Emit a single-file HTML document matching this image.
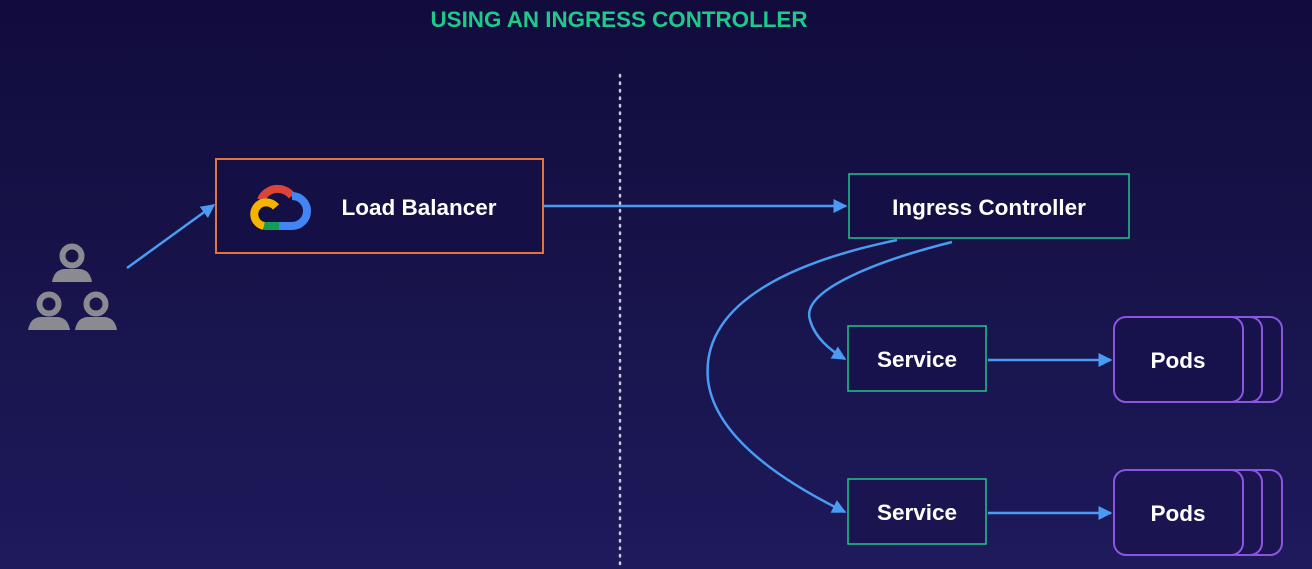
<!DOCTYPE html>
<html><head><meta charset="utf-8"><style>
html,body{margin:0;padding:0;width:1312px;height:569px;overflow:hidden;}
body{background:linear-gradient(180deg,#110c3c 0%,#171349 45%,#1e1a5c 100%);font-family:"Liberation Sans",sans-serif;}
svg{display:block}
</style></head><body>
<svg width="1312" height="569" viewBox="0 0 1312 569" xmlns="http://www.w3.org/2000/svg">
<defs>
<marker id="b" viewBox="0 0 10 10" refX="9" refY="5" markerWidth="14" markerHeight="14" orient="auto" markerUnits="userSpaceOnUse"><path d="M0 0L10 5L0 10z" fill="#4a9cf2"/></marker>
</defs>
<text x="619" y="27" text-anchor="middle" font-family="Liberation Sans" font-weight="bold" font-size="22" fill="#1fc98a" textLength="377" lengthAdjust="spacingAndGlyphs">USING AN INGRESS CONTROLLER</text>
<line x1="620" y1="75" x2="620" y2="569" stroke="#c8c8d8" stroke-width="2.5" stroke-dasharray="1.5 6" stroke-linecap="round"/>
<!-- users -->
<g fill="#8a8a90">
<circle cx="72" cy="256" r="9.5" fill="none" stroke="#8a8a90" stroke-width="6"/>
<path d="M52 282 Q54 270 64 269 L80 269 Q90 270 92 282 z"/>
<circle cx="49" cy="304" r="9.5" fill="none" stroke="#8a8a90" stroke-width="6"/>
<path d="M28 330 Q30 318 40 317 L58 317 Q68 318 70 330 z"/>
<circle cx="96" cy="304" r="9.5" fill="none" stroke="#8a8a90" stroke-width="6"/>
<path d="M75 330 Q77 318 87 317 L105 317 Q115 318 117 330 z"/>
</g>
<g stroke="#4a9cf2" stroke-width="2.5" fill="none">
<line x1="127" y1="268" x2="214" y2="205" marker-end="url(#b)"/>
<line x1="544" y1="206" x2="846" y2="206" marker-end="url(#b)"/>
<path d="M897 240 C800 260 700 300 708 380 C715 440 790 485 845 512" marker-end="url(#b)"/>
<path d="M952 242 C880 260 800 290 810 320 C815 338 830 350 845 359" marker-end="url(#b)"/>
<line x1="988" y1="360" x2="1111" y2="360" marker-end="url(#b)"/>
<line x1="988" y1="513" x2="1111" y2="513" marker-end="url(#b)"/>
</g>
<rect x="216" y="159" width="327" height="94" fill="#140f45" stroke="#e0763a" stroke-width="2"/>
<!-- google cloud -->
<g stroke-width="8" fill="none" stroke-linecap="butt">
<path d="M261 200 A18 18 0 0 1 292 196" stroke="#db4437"/>
<path d="M292 196 A12 12 0 0 1 292 226 L279 226" stroke="#4285f4"/>
<path d="M279 226 L264 226" stroke="#0f9d58"/>
<path d="M264 226 A12 12 0 0 1 262 203 A13 13 0 0 1 276 207" stroke="#f4b400"/>
</g>
<text x="419" y="215" text-anchor="middle" font-weight="bold" font-size="22.5" fill="#fff">Load Balancer</text>
<rect x="849" y="174" width="280" height="64" fill="#140f45" stroke="#22c48a" stroke-width="1.5"/>
<text x="989" y="215" text-anchor="middle" font-weight="bold" font-size="22.5" fill="#fff">Ingress Controller</text>
<rect x="848" y="326" width="138" height="65" fill="#17124b" stroke="#22c48a" stroke-width="1.5"/>
<text x="917" y="367" text-anchor="middle" font-weight="bold" font-size="22.5" fill="#fff">Service</text>
<rect x="848" y="479" width="138" height="65" fill="#1a1550" stroke="#22c48a" stroke-width="1.5"/>
<text x="917" y="520" text-anchor="middle" font-weight="bold" font-size="22.5" fill="#fff">Service</text>
<g stroke="#8b55e0" stroke-width="2" fill="#17124b">
<rect x="1153" y="317" width="129" height="85" rx="12"/>
<rect x="1133" y="317" width="129" height="85" rx="12"/>
<rect x="1114" y="317" width="129" height="85" rx="12"/>
<rect x="1153" y="470" width="129" height="85" rx="12" fill="#1a1550"/>
<rect x="1133" y="470" width="129" height="85" rx="12" fill="#1a1550"/>
<rect x="1114" y="470" width="129" height="85" rx="12" fill="#1a1550"/>
</g>
<text x="1178" y="368" text-anchor="middle" font-weight="bold" font-size="22.5" fill="#fff">Pods</text>
<text x="1178" y="521" text-anchor="middle" font-weight="bold" font-size="22.5" fill="#fff">Pods</text>
</svg>
</body></html>
